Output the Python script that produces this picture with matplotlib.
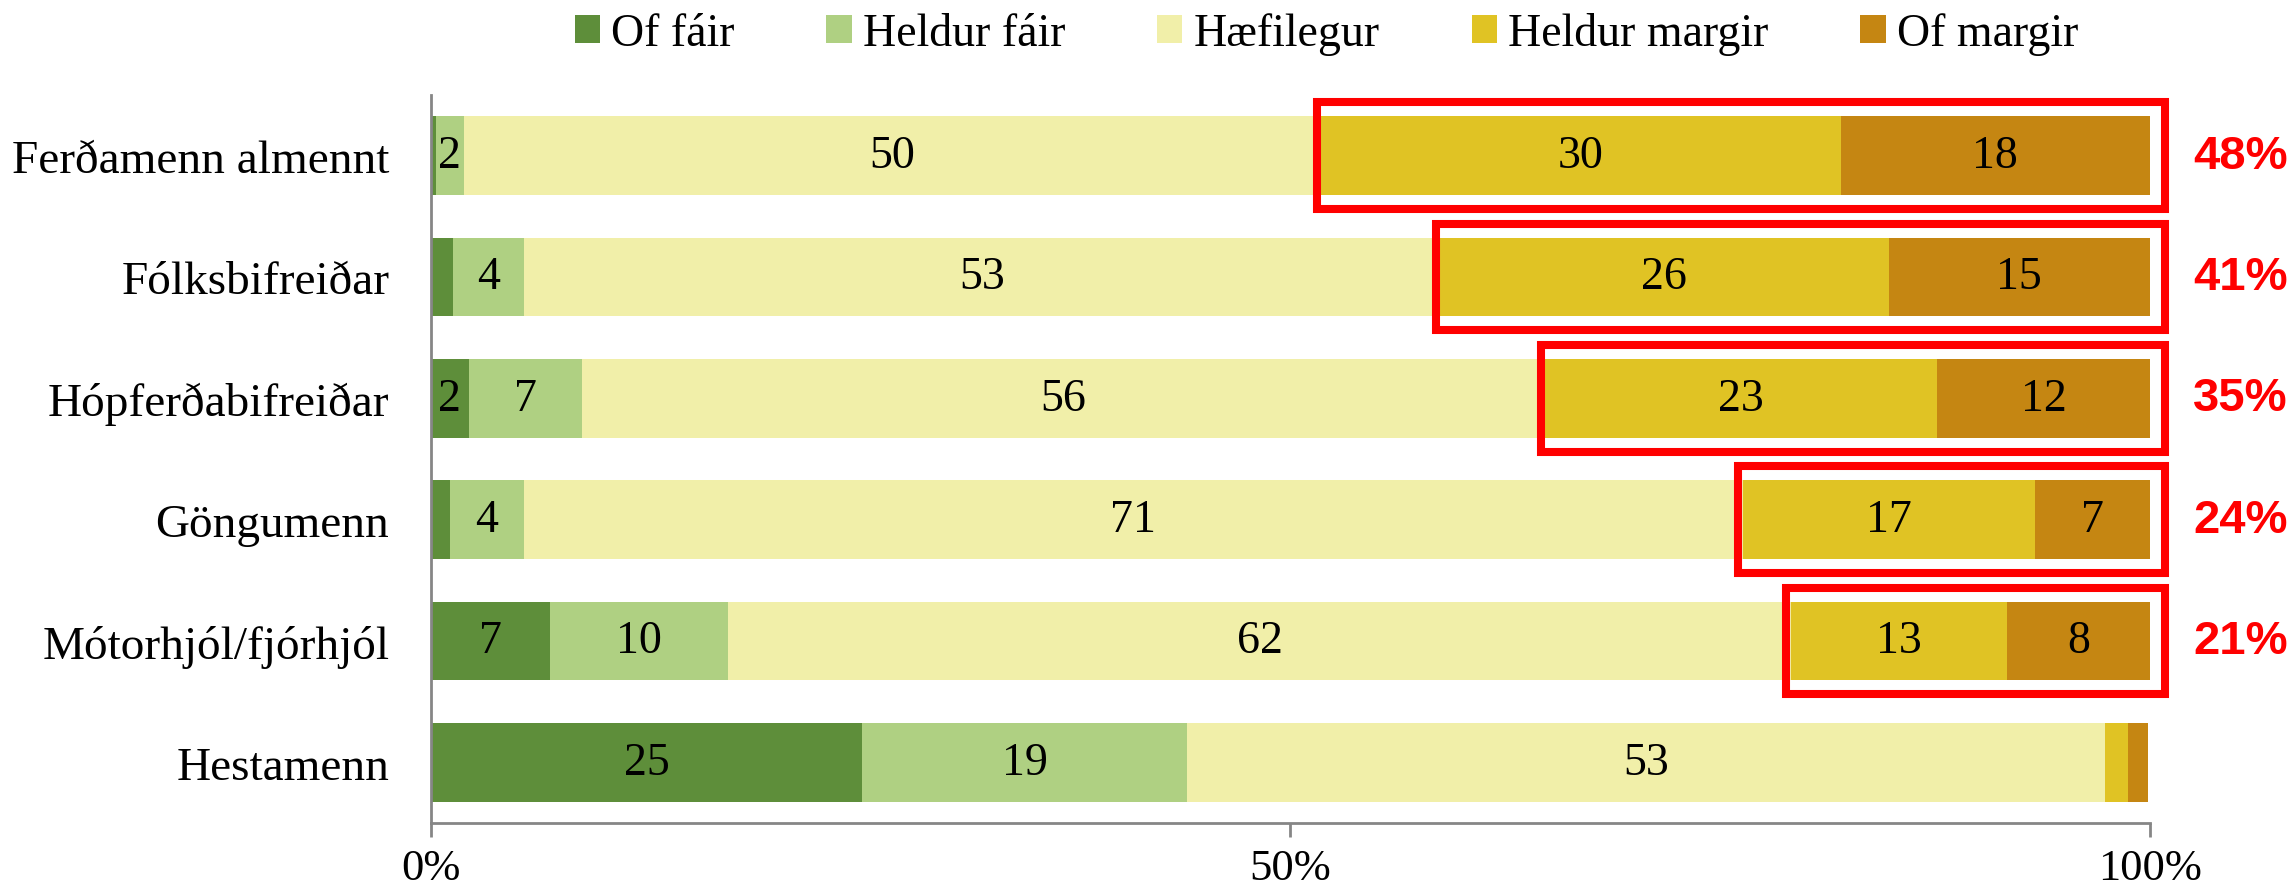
import numpy as np
import matplotlib.pyplot as plt
from matplotlib.patches import Rectangle

# Flokkar (efst til neðst)
categories = ["Ferðamenn almennt", "Fólksbifreiðar", "Hópferðabifreiðar",
              "Göngumenn", "Mótorhjól/fjórhjól", "Hestamenn"]
series_names = ["Of fáir", "Heldur fáir", "Hæfilegur", "Heldur margir", "Of margir"]

# Hlutföll (%) lesin af myndinni
of_fair = [0.3, 1.3, 2.2, 1.1, 6.9, 25.1]
heldur_fair = [1.6, 4.1, 6.6, 4.3, 10.4, 18.9]
haefilegur = [49.9, 53.3, 56.0, 70.9, 61.8, 53.4]
heldur_margir = [30.2, 26.1, 22.8, 17.0, 12.6, 1.3]
of_margir = [18.0, 15.2, 12.4, 6.7, 8.3, 1.2]

# Raðir sem fá rauðan ramma
boxed_rows = [0, 1, 2, 3, 4]

colors = ["#5E8E3A", "#AFD082", "#F1EFA9", "#E0C324", "#C58612"]
serif = "Liberation Serif"

data = np.array([of_fair, heldur_fair, haefilegur, heldur_margir, of_margir])
y = np.arange(len(categories))
bar_h = 0.65

fig, ax = plt.subplots(figsize=(22.95, 8.95), dpi=100)
fig.subplots_adjust(left=0.1878, right=0.9368, bottom=0.0793, top=0.8927)

left = np.zeros(len(categories))
for i, name in enumerate(series_names):
    vals = data[i]
    ax.barh(y, vals, left=left, height=bar_h, color=colors[i], label=name)
    for j, v in enumerate(vals):
        if v >= 1.5:
            ax.text(left[j] + v / 2, y[j], str(int(round(v))), ha="center", va="center",
                    fontsize=33, family=serif, color="black")
    left = left + vals

# Rauðir rammar um "Heldur margir" + "Of margir" og summan til hægri
start_margir = data[0] + data[1] + data[2]
for j in boxed_rows:
    x0 = start_margir[j] - 0.25
    x1 = 100.85
    rect = Rectangle((x0, y[j] - 0.44), x1 - x0, 0.88, fill=False,
                     edgecolor="#FF0000", linewidth=5.8, clip_on=False, zorder=5)
    ax.add_patch(rect)
    total = data[3][j] + data[4][j]
    ax.text(102.5, y[j], f"{int(round(total))}%", ha="left", va="center",
            fontsize=34, fontweight="bold", family="Liberation Sans", color="#FF0000")

ax.set_xlim(0, 100)
ax.set_ylim(len(categories) - 0.5, -0.5)
ax.set_yticks(y)
ax.set_yticklabels(categories, fontsize=34, family=serif)
ax.set_xticks([0, 50, 100])
ax.set_xticklabels(["0%", "50%", "100%"], fontsize=32, family=serif)
ax.tick_params(axis="y", length=0, pad=30)
ax.tick_params(axis="x", length=10, width=2, color="#868686", pad=8)

for s in ["top", "right"]:
    ax.spines[s].set_visible(False)
for s in ["left", "bottom"]:
    ax.spines[s].set_color("#868686")
    ax.spines[s].set_linewidth(2)

fig.legend(loc="center", bbox_to_anchor=(0.578, 0.961), ncol=5, frameon=False,
           prop={"family": serif, "size": 33}, handlelength=0.55, handleheight=0.55,
           handletextpad=0.25, columnspacing=2.0)

plt.savefig("out.png", dpi=100)
